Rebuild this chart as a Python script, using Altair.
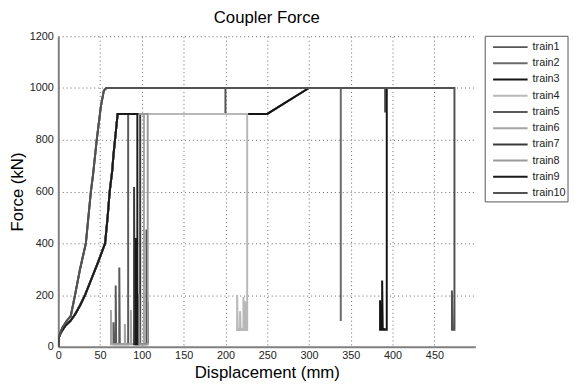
import altair as alt
import pandas as pd

# shared loading curves (x: displacement mm, y: force kN)
curveA_x = [0, 0.5, 2, 5, 10, 15, 20, 26, 33, 36, 39, 41.5, 46, 51, 54.5, 57.5]
curveA_y = [0, 35, 50, 75, 100, 120, 200, 300, 400, 500, 600, 663, 800, 930, 990, 1000]
curveB_x = [0, 0.5, 3, 8, 14.5, 20, 26, 32, 40, 48, 56, 59, 61.5, 64.5, 66, 71]
curveB_y = [0, 35, 55, 80, 100, 125, 160, 200, 265, 330, 400, 500, 600, 680, 740, 900]

train1_x = [200, 200, 250, 300, 391, 391]
train1_y = [1000, 900, 900, 1000, 1000, 905]
train2_x = [338, 338]
train2_y = [1000, 100]
train3_x = [250, 300, 393, 393, 385, 385, 385.6, 387.5, 387.5, 388.2, 393]
train3_y = [900, 1000, 1000, 66, 66, 180, 66, 66, 256, 70, 66]
train4_x = [226, 226, 214, 214, 214.6, 217.5, 217.5, 218.1, 221.5, 221.5, 222.1, 223.5, 223.5, 224.1, 226]
train4_y = [900, 65, 65, 200, 70, 70, 138, 70, 70, 193, 70, 70, 176, 65, 65]
train5_x = [83.6, 83.6, 73, 73, 73.6, 68.7, 68.7, 69.3, 66, 66, 66.6]
train5_y = [900, 10, 10, 307, 10, 10, 237, 10, 10, 95, 10]
train6_x = [102.5, 102.5, 86.8, 86.8, 87.4, 79.6, 79.6, 80.2, 63, 63, 63.6]
train6_y = [900, 10, 10, 142, 10, 10, 88, 10, 10, 142, 10]
train7_x = [98, 98, 90.7, 90.7, 91.3, 105.6, 105.6, 106.2, 106.8, 107.2]
train7_y = [900, 10, 10, 618, 10, 10, 453, 12, 174, 12]
train8_x = [107, 107, 96.6, 96.6, 97.2]
train8_y = [900, 10, 10, 205, 10]
train9_x = [94.6, 94.6, 92.7, 92.7, 93.3]
train9_y = [900, 10, 10, 421, 10]
train10_x = [474, 474, 471, 471, 471.6, 474]
train10_y = [1000, 66, 66, 218, 66, 66]

series = ["train1", "train2", "train3", "train4", "train5",
          "train6", "train7", "train8", "train9", "train10"]
colors = ["#555555", "#6a6a6a", "#141414", "#b8b8b8", "#5a5a5a",
          "#a4a4a4", "#3a3a3a", "#9a9a9a", "#1a1a1a", "#525252"]
base_curve = {"train1": "A", "train2": "A", "train3": "B", "train4": "B", "train5": "B",
              "train6": "B", "train7": "B", "train8": "B", "train9": "B", "train10": "A"}
tails = {
    "train1": (train1_x, train1_y), "train2": (train2_x, train2_y),
    "train3": (train3_x, train3_y), "train4": (train4_x, train4_y),
    "train5": (train5_x, train5_y), "train6": (train6_x, train6_y),
    "train7": (train7_x, train7_y), "train8": (train8_x, train8_y),
    "train9": (train9_x, train9_y), "train10": (train10_x, train10_y),
}

x_ticks = [0, 50, 100, 150, 200, 250, 300, 350, 400, 450]
y_ticks = [0, 200, 400, 600, 800, 1000, 1200]

rows = []
for s in series:
    if base_curve[s] == "A":
        bx, by = curveA_x, curveA_y
    else:
        bx, by = curveB_x, curveB_y
    tx, ty = tails[s]
    xs = list(bx) + list(tx)
    ys = list(by) + list(ty)
    for i, (xv, yv) in enumerate(zip(xs, ys)):
        rows.append({"train": s, "disp": xv, "force": yv, "idx": i})
df = pd.DataFrame(rows)
legend_df = pd.DataFrame({"train": series})
box_df = pd.DataFrame({"k": [0]})

FONT = "Liberation Sans"
color_scale = alt.Scale(domain=series, range=colors)

lines = alt.Chart(df).mark_line(strokeWidth=2, clip=True).encode(
    x=alt.X("disp:Q",
            scale=alt.Scale(domain=[0, 499], nice=False, zero=False),
            axis=alt.Axis(values=x_ticks, title="Displacement (mm)", grid=True, format="d",
                          labelFontSize=11, labelPadding=3, ticks=False,
                          titleFontSize=17, titleFontWeight="normal", titlePadding=4,
                          labelFlush=False)),
    y=alt.Y("force:Q",
            scale=alt.Scale(domain=[0, 1200], nice=False),
            axis=alt.Axis(values=y_ticks, title="Force (kN)", grid=True, format="d",
                          labelFontSize=11, labelPadding=5, ticks=False,
                          titleFontSize=17, titleFontWeight="normal", titlePadding=3,
                          labelFlush=False)),
    color=alt.Color("train:N", scale=color_scale, legend=None),
    order=alt.Order("idx:Q"),
    detail="train:N",
)

leg_y = alt.Y("train:N", scale=alt.Scale(type="point", domain=series, range=[11, 159], padding=0),
              axis=None)

box = alt.Chart(box_df).mark_rect(fill="white", stroke="#555555", strokeWidth=1).encode(
    x=alt.value(433), x2=alt.value(517), y=alt.value(0), y2=alt.value(168))

leg_lines = alt.Chart(legend_df).mark_rule(strokeWidth=2).encode(
    x=alt.value(441), x2=alt.value(476), y=leg_y,
    color=alt.Color("train:N", scale=color_scale, legend=None))

leg_text = alt.Chart(legend_df).mark_text(align="left", baseline="middle", fontSize=11,
                                          font=FONT, color="#222222").encode(
    x=alt.value(481), y=leg_y, text="train:N")

chart = alt.layer(lines, box, leg_lines, leg_text).resolve_scale(
    y="independent"
).properties(
    width=423, height=315,
    title=alt.TitleParams("Coupler Force", fontSize=17, fontWeight="normal",
                          anchor="middle", offset=3, font=FONT, color="black"),
    autosize=alt.AutoSizeParams(type="none"),
    padding={"left": 51, "top": 26, "right": 96, "bottom": 34},
).configure_view(stroke=None).configure_axis(
    labelFont=FONT, titleFont=FONT, labelColor="#222222", titleColor="black",
    domainColor="#808080", domainWidth=2,
    gridColor="#666666", gridDash=[1, 3], gridWidth=1, gridOpacity=1,
)

chart.save("out.html", embed_options={"renderer": "svg", "actions": False})
